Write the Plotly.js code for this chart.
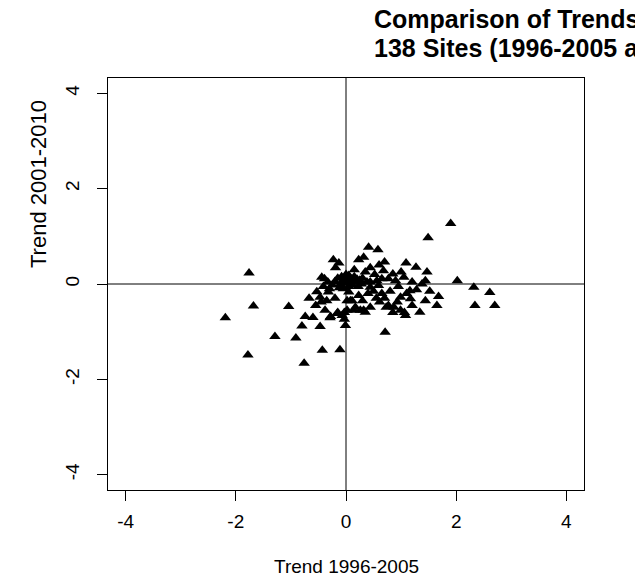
<!DOCTYPE html>
<html>
<head>
<meta charset="utf-8">
<script src="https://cdn.plot.ly/plotly-3.0.1.min.js"></script>
<style>html,body{margin:0;padding:0;background:#fff;}#chart{width:635px;height:576px;}</style>
</head>
<body>
<div id="chart"></div>
<script>
var trend9605 = [-2.19,-1.78,-1.76,-1.68,-1.29,-1.04,-0.91,-0.76,-0.80,-0.74,-0.67,-0.53,-0.47,-0.45,-0.43,-0.41,-0.39,-0.35,-0.33,-0.29,-0.23,-0.19,-0.13,-0.15,-0.11,-0.03,-0.01,-0.03,0.02,-0.44,-0.32,-0.47,-0.16,-0.07,0.02,
-0.20,-0.15,-0.10,-0.08,-0.05,0.00,0.02,0.05,0.08,0.10,0.12,0.15,0.18,0.20,0.22,0.25,0.28,-0.12,0.05,-0.25,0.30,0.00,-0.05,
1.90,1.49,0.41,0.58,0.23,0.32,0.70,1.09,1.27,0.44,0.35,0.68,0.85,1.47,1.05,0.90,0.77,0.56,0.44,1.20,1.44,1.38,2.02,2.32,2.61,2.34,2.70,1.65,1.68,1.52,1.44,1.34,1.28,1.16,1.17,0.99,0.93,0.87,0.99,1.08,1.06,0.77,0.73,0.61,0.44,0.32,0.23,0.14,0.08,-0.28,0.71,0.05,0.11,0.38,0.44,0.59,0.65,0.17,0.26,0.35,0.50,0.65,0.80,0.55,0.40,0.95,1.10,0.70,1.20,0.85,-0.38,-0.55,-0.60,0.30,0.52,0.15,-0.20,1.00,0.60,-0.30];
var trend0110 = [-0.71,-1.49,0.23,-0.46,-1.10,-0.47,-1.13,-1.66,-0.88,-0.68,-0.30,-0.16,-0.89,-0.38,-1.39,-0.05,0.11,-0.35,0.04,-0.71,0.51,0.34,0.44,-0.60,-1.38,-0.60,-0.87,-0.74,-0.35,0.14,-0.17,-0.28,-0.62,-0.66,-0.55,
0.05,0.12,0.00,0.15,0.08,0.02,0.12,0.18,0.05,0.10,-0.02,0.15,0.05,0.10,-0.05,0.08,0.00,-0.08,-0.05,-0.02,0.12,0.20,-0.10,
1.27,0.97,0.77,0.72,0.51,0.56,0.46,0.44,0.35,0.34,0.25,0.28,0.21,0.25,0.14,0.07,0.11,0.07,0.04,0.04,0.07,0.00,0.07,-0.07,-0.18,-0.45,-0.45,-0.45,-0.26,-0.15,-0.35,-0.59,-0.12,-0.14,-0.31,-0.28,-0.38,-0.49,-0.55,-0.66,-0.60,-0.45,-0.49,-0.38,-0.49,-0.55,-0.24,-0.55,-0.35,-0.68,-1.01,-0.17,-0.35,0.04,-0.07,-0.03,0.11,-0.49,-0.55,-0.59,-0.15,-0.20,-0.15,-0.30,-0.20,-0.05,-0.20,-0.30,-0.45,-0.60,-0.55,-0.45,-0.70,-0.35,0.20,0.30,-0.30,0.25,0.40,-0.10];
var tickValues = [-4,-2,0,2,4];
var tickLabels = ['-4','-2','0','2','4'];
var titleLine1 = 'Comparison of Trends';
var titleLine2 = '138 Sites (1996-2005 and 2001-2010)';
var xTitle = 'Trend 1996-2005';
var yTitle = 'Trend 2001-2010';

var F = 'Liberation Sans, Arial, sans-serif';
// plot box in pixels: left 108, right 584, top 78, bottom 490
function px2x(p) { return (p - 108) / 476; }
function px2y(p) { return (490 - p) / 412; }
var axisCommon = {
  range: [-4.32, 4.32], tickmode: 'array', tickvals: tickValues, ticktext: tickLabels,
  ticks: 'outside', ticklen: 10, tickwidth: 1, tickcolor: '#000',
  showline: true, mirror: true, linecolor: '#000', linewidth: 1,
  showgrid: false, zeroline: false, tickfont: {family: F, size: 19, color: '#000'}
};
var layout = {
  width: 635, height: 576,
  margin: {l: 108, r: 51, t: 78, b: 86},
  paper_bgcolor: '#fff', plot_bgcolor: '#fff',
  showlegend: false,
  xaxis: Object.assign({}, axisCommon, {ticklabelstandoff: 4}),
  yaxis: Object.assign({}, axisCommon, {tickangle: -90, ticklabelstandoff: 10}),
  shapes: [
    {type: 'line', xref: 'paper', yref: 'y', x0: 0, x1: 1, y0: 0, y1: 0, line: {color: '#000', width: 1}},
    {type: 'line', xref: 'x', yref: 'paper', x0: 0, x1: 0, y0: 0, y1: 1, line: {color: '#000', width: 1}}
  ],
  annotations: [
    {xref: 'paper', yref: 'paper', x: px2x(372), y: px2y(19), xanchor: 'left', yanchor: 'middle', showarrow: false,
     text: '<b>' + titleLine1 + '</b>', font: {family: F, size: 25, color: '#000'}},
    {xref: 'paper', yref: 'paper', x: px2x(372), y: px2y(48), xanchor: 'left', yanchor: 'middle', showarrow: false,
     text: '<b>' + titleLine2 + '</b>', font: {family: F, size: 25, color: '#000'}},
    {xref: 'paper', yref: 'paper', x: 0.5, y: px2y(566), xanchor: 'center', yanchor: 'middle', showarrow: false,
     text: xTitle, font: {family: F, size: 19, color: '#000'}},
    {xref: 'paper', yref: 'paper', x: px2x(38), y: px2y(184), xanchor: 'center', yanchor: 'middle', showarrow: false, textangle: -90,
     text: yTitle, font: {family: F, size: 22, color: '#000'}}
  ]
};
var data = [{
  type: 'scatter', mode: 'markers', x: trend9605, y: trend0110,
  marker: {symbol: 'triangle-up', size: 10, color: '#000', line: {width: 0}},
  cliponaxis: true, hoverinfo: 'skip'
}];
Plotly.newPlot('chart', data, layout, {staticPlot: true});
</script>
</body>
</html>
